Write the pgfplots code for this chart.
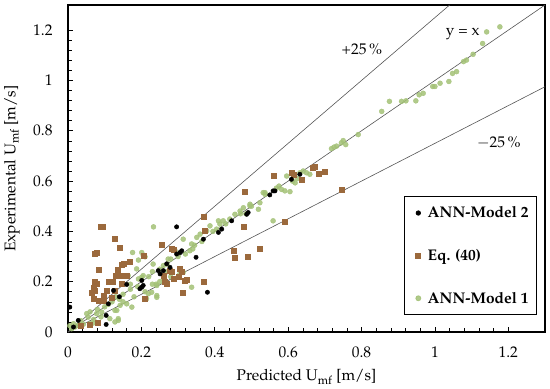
\documentclass[border=0pt]{standalone}
\usepackage[T1]{fontenc}
\usepackage{mathpazo}
\usepackage{pgfplots}
\pgfplotsset{compat=1.18}
\definecolor{annone}{RGB}{163,193,118}
\definecolor{eqforty}{RGB}{155,105,60}
\definecolor{refline}{RGB}{85,85,85}
\begin{document}
\begin{tikzpicture}[font=\fontsize{15.5}{18}\selectfont]
\begin{axis}[
 scale only axis, width=477bp, height=327bp,
 xmin=0, xmax=1.3, ymin=0, ymax=1.3,
 xtick={0,0.2,0.4,0.6,0.8,1,1.2}, ytick={0,0.2,0.4,0.6,0.8,1,1.2},
 minor x tick num=4, minor y tick num=4,
 xtick pos=left, ytick pos=left, tick align=inside,
 major tick length=5bp, minor tick length=4bp,
 every tick/.style={black, line width=0.6pt},
 axis line style={line width=1.1pt},
 xticklabel style={yshift=-11bp}, yticklabel style={xshift=-12bp},
 xlabel={Predicted U\textsubscript{mf} [m/s]},
 ylabel={Experimental U\textsubscript{mf} [m/s]},
 every axis x label/.style={at={(axis description cs:0.5,-0.1376)},anchor=center},
 every axis y label/.style={at={(axis description cs:-0.1174,0.5)},rotate=90,anchor=center},
 reverse legend,
 legend image code/.code={\path (-8bp,0pt) (7bp,0pt);
   \draw[mark repeat=2,mark phase=2,#1] plot coordinates {(-8bp,0pt) (0pt,0pt) (7bp,0pt)};},
 legend style={at={(rel axis cs:0.983,0.052)}, anchor=south east, draw=black, line width=0.8pt,
   font=\bfseries\fontsize{15.5}{18}\selectfont, row sep=26bp, inner xsep=6bp, inner ysep=8bp, cells={anchor=west}},
]
\addplot[refline, line width=0.6pt, forget plot] coordinates {(0,0) (1.3,1.3)};
\addplot[refline, line width=0.6pt, forget plot] coordinates {(0,0) (1.04,1.3)};
\addplot[refline, line width=0.6pt, forget plot] coordinates {(0,0) (1.3,0.975)};

% ANN-Model 1
\addplot[only marks, color=annone, mark=*, mark size=2.5bp, mark options={draw=annone, fill=annone, opacity=0.85}] coordinates {
(1.177,1.213) (1.141,1.193) (1.130,1.147) (1.104,1.104) (1.086,1.081) (1.078,1.075)
(1.059,1.035) (1.048,1.028) (1.038,0.996) (1.014,0.989) (1.000,0.976) (0.994,0.976)
(0.968,0.949) (0.957,0.943) (0.948,0.919) (0.921,0.919) (0.909,0.917) (0.876,0.917)
(0.855,0.877) (0.791,0.785) (0.757,0.745) (0.750,0.761) (0.732,0.739) (0.718,0.729)
(0.725,0.735) (0.745,0.752)
(0.659,0.627) (0.650,0.633) (0.641,0.640) (0.632,0.633) (0.619,0.593) (0.596,0.620)
(0.605,0.558) (0.591,0.561) (0.582,0.567) (0.537,0.547) (0.532,0.554) (0.523,0.514)
(0.559,0.442) (0.519,0.488) (0.496,0.508) (0.478,0.494) (0.469,0.481) (0.455,0.468)
(0.441,0.449) (0.423,0.442) (0.414,0.429) (0.405,0.409) (0.387,0.422) (0.378,0.402)
(0.360,0.389) (0.351,0.376) (0.337,0.350) (0.332,0.323) (0.314,0.369) (0.292,0.323)
(0.273,0.290) (0.260,0.264) (0.337,0.178) (0.314,0.237) (0.305,0.231) (0.568,0.572)
(0.575,0.580) (0.612,0.600) (0.625,0.610) (0.500,0.500)
(0.233,0.418) (0.205,0.303) (0.176,0.316) (0.201,0.316) (0.192,0.286) (0.164,0.224)
(0.192,0.211) (0.205,0.224) (0.214,0.132) (0.242,0.138) (0.228,0.158) (0.160,0.112)
(0.174,0.099) (0.128,0.086) (0.137,0.053) (0.128,0.040) (0.114,0.053) (0.092,0.079)
(0.078,0.073) (0.051,0.073) (0.055,0.059) (0.015,0.033) (0.028,0.027) (0.042,0.031)
(0.060,0.033) (0.069,0.036) (0.010,0.013) (0.019,0.020) (0.005,0.025) (0.035,0.045)
(0.08,0.09) (0.10,0.10) (0.12,0.12) (0.13,0.14) (0.15,0.15) (0.17,0.17) (0.19,0.18)
(0.20,0.21) (0.22,0.22) (0.23,0.24) (0.25,0.25) (0.27,0.27) (0.28,0.29) (0.30,0.30)
(0.32,0.31) (0.34,0.33) (0.15,0.12) (0.18,0.14) (0.21,0.16) (0.23,0.19) (0.25,0.20)
(0.26,0.21) (0.28,0.22) (0.17,0.19) (0.14,0.13) (0.11,0.11) (0.09,0.06) (0.07,0.05)
(0.06,0.08) (0.24,0.19) (0.27,0.24) (0.242,0.185)
(0.210,0.299) (0.232,0.270) (0.242,0.145) (0.219,0.152) (0.187,0.251) (0.201,0.218)
(0.133,0.086) (0.142,0.106) (0.137,0.046) (0.410,0.442) (0.430,0.430) (0.496,0.501)
(0.537,0.554) (0.395,0.400) (0.365,0.360) (0.345,0.345) (0.470,0.470) (0.485,0.470)
};
\addlegendentry{ANN-Model 1}

% Eq. (40)
\addplot[only marks, color=eqforty, mark=square*, mark size=2.5bp, mark options={draw=eqforty, fill=eqforty}] coordinates {
(0.089,0.418) (0.095,0.418) (0.128,0.369) (0.140,0.336) (0.078,0.316) (0.074,0.310)
(0.255,0.347) (0.085,0.247) (0.146,0.268) (0.153,0.273) (0.169,0.280) (0.135,0.247)
(0.131,0.224) (0.146,0.224) (0.160,0.224) (0.110,0.198) (0.123,0.198) (0.146,0.191)
(0.074,0.198) (0.078,0.191) (0.069,0.178) (0.074,0.165) (0.065,0.158) (0.105,0.165)
(0.128,0.165) (0.069,0.132) (0.096,0.145) (0.083,0.125) (0.096,0.125) (0.119,0.138)
(0.205,0.303) (0.287,0.326) (0.283,0.241) (0.305,0.251) (0.310,0.241) (0.301,0.218)
(0.323,0.207) (0.369,0.199) (0.313,0.157) (0.264,0.198) (0.260,0.224) (0.287,0.211)
(0.371,0.458) (0.373,0.402) (0.478,0.418) (0.452,0.323) (0.455,0.294) (0.491,0.299)
(0.523,0.330) (0.482,0.558) (0.561,0.620) (0.609,0.633) (0.614,0.627) (0.637,0.607)
(0.668,0.653) (0.682,0.631) (0.700,0.636) (0.673,0.659) (0.746,0.564) (0.591,0.439)
(0.035,0.025) (0.060,0.030) (0.080,0.035) (0.283,0.330) (0.278,0.244) (0.319,0.205)
(0.269,0.191) (0.210,0.132)
};
\addlegendentry{Eq. (40)}

% ANN-Model 2
\addplot[only marks, color=black, mark=*, mark size=2.2bp, mark options={draw=black, fill=black}] coordinates {
(0.005,0.099) (0.104,0.030) (0.104,0.066) (0.124,0.165) (0.160,0.189) (0.196,0.172)
(0.246,0.244) (0.201,0.205) (0.028,0.046) (0.110,0.112) (0.269,0.271) (0.260,0.244)
(0.296,0.418) (0.380,0.158) (0.369,0.369) (0.349,0.297) (0.310,0.323) (0.305,0.316)
(0.296,0.310) (0.487,0.468) (0.446,0.442) (0.419,0.409) (0.410,0.396) (0.550,0.545)
(0.564,0.561) (0.609,0.607) (0.632,0.627) (0.205,0.185) (0.140,0.140) (0.015,0.020)
(0.278,0.257) (0.251,0.231) (0.201,0.178) (0.491,0.475) (0.559,0.561)
};
\addlegendentry{ANN-Model 2}

\node at (axis cs:0.801,1.122) {+25\,\%};
\node at (axis cs:1.076,1.185) {y = x};
\node at (axis cs:1.174,0.754) {$-$25\,\%};
\end{axis}
\pgfresetboundingbox
\path ([xshift=-68bp,yshift=-57bp]current axis.south west) rectangle ([xshift=5bp,yshift=5bp]current axis.north east);
\end{tikzpicture}
\end{document}
